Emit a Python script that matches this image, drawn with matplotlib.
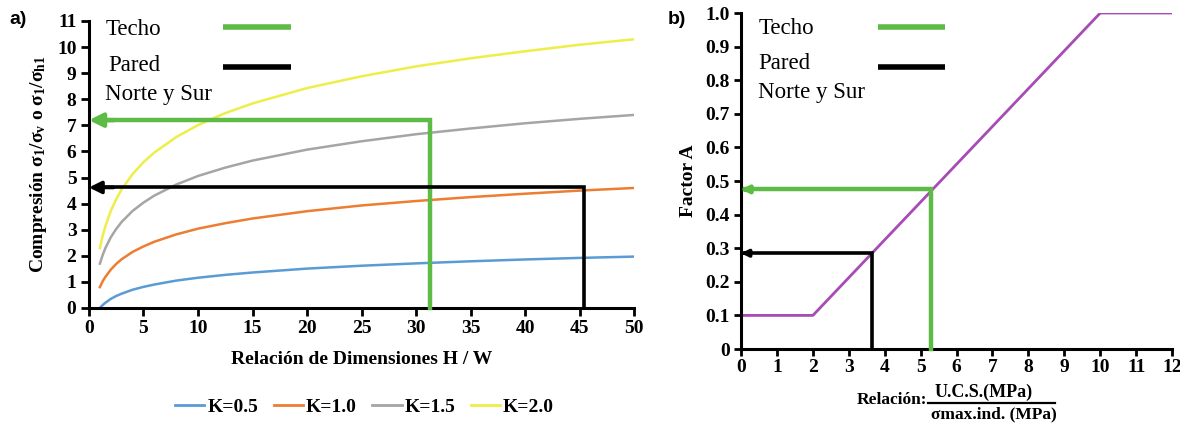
import numpy as np
import matplotlib as mpl
import matplotlib.pyplot as plt
from matplotlib.lines import Line2D

mpl.rcParams['font.family'] = ['Liberation Serif', 'DejaVu Serif']
mpl.rcParams['mathtext.fontset'] = 'custom'
mpl.rcParams['mathtext.rm'] = 'Liberation Serif'
mpl.rcParams['mathtext.bf'] = 'Liberation Serif:bold'
mpl.rcParams['mathtext.it'] = 'Liberation Serif:italic'

# DATA
# -----------
# panel a) relacion H/W vs compresion
hw = [1, 1.25, 1.5, 2, 2.5, 3, 4, 5, 6, 8, 10, 12.5, 15, 20, 25, 30, 35, 40, 45, 50]
k_labels = ['K=0.5', 'K=1.0', 'K=1.5', 'K=2.0']
k05 = [0.00, 0.11, 0.20, 0.35, 0.46, 0.55, 0.70, 0.81, 0.90, 1.05, 1.16, 1.27, 1.36,
       1.51, 1.62, 1.71, 1.79, 1.86, 1.92, 1.97]
k10 = [0.80, 1.02, 1.19, 1.47, 1.69, 1.87, 2.15, 2.36, 2.54, 2.82, 3.04, 3.25, 3.43,
       3.71, 3.93, 4.10, 4.25, 4.38, 4.50, 4.60]
k15 = [1.70, 2.02, 2.29, 2.71, 3.03, 3.30, 3.72, 4.04, 4.31, 4.73, 5.06, 5.38, 5.65,
       6.07, 6.39, 6.66, 6.88, 7.08, 7.25, 7.40]
k20 = [2.30, 2.76, 3.13, 3.72, 4.17, 4.55, 5.13, 5.59, 5.96, 6.55, 7.01, 7.47, 7.84,
       8.43, 8.88, 9.26, 9.57, 9.84, 10.09, 10.30]
k_colors = ['#5B9BD5', '#ED7D31', '#A5A5A5', '#EEEE48']

# guide lines (x at vertical, y at horizontal)
techo_a = (31.3, 7.2)
pared_a = (45.4, 4.62)

# panel b) factor A
ratio = [0, 2, 10, 12]
factor_a = [0.1, 0.1, 1.0, 1.0]
techo_b = (5.3, 0.475)
pared_b = (3.65, 0.285)

GREEN = '#5DBB46'
PURPLE = '#A64CB4'


def guide(ax, xv, yh, color, lw, head, xhead):
    ax.plot([xhead, xv, xv], [yh, yh, 0], color=color, lw=lw,
            solid_joinstyle='miter', clip_on=False, zorder=4)
    ax.annotate('', xy=(0, yh), xytext=(xhead * 1.5, yh),
                arrowprops=dict(arrowstyle='-|>', color=color, lw=lw,
                                mutation_scale=head, shrinkA=0, shrinkB=0),
                zorder=5, annotation_clip=False)


def style_axes(ax):
    for s in ['top', 'right']:
        ax.spines[s].set_visible(False)
    for s in ['left', 'bottom']:
        ax.spines[s].set_linewidth(2.2)
    ax.tick_params(direction='out', width=2, length=6, labelsize=14, pad=3)
    for lab in ax.get_xticklabels() + ax.get_yticklabels():
        lab.set_fontweight('bold')


def key(ax, xy_text, line_x, line_y, label, color, lw):
    ax.text(xy_text[0], xy_text[1], label, transform=ax.transAxes,
            fontsize=16.5, va='center', ha='left')
    ax.add_line(Line2D(line_x, line_y, transform=ax.transAxes, color=color, lw=lw,
                       solid_capstyle='butt', clip_on=False))


fig = plt.figure(figsize=(11.8, 4.25), dpi=100)

# -------- a)
ax1 = fig.add_axes([0.0754, 0.2753, 0.462, 0.6753])
for ys, c, lab in zip([k05, k10, k15, k20], k_colors, k_labels):
    ax1.plot(hw, ys, color=c, lw=1.8, label=lab)
guide(ax1, techo_a[0], techo_a[1], GREEN, 3.2, 20, 1.5)
guide(ax1, pared_a[0], pared_a[1], 'black', 2.6, 18, 1.5)
ax1.set_xlim(0, 50)
ax1.set_ylim(0, 11)
ax1.set_xticks(np.arange(0, 51, 5))
ax1.set_yticks(np.arange(0, 12, 1))
style_axes(ax1)
ax1.set_xlabel('Relación de Dimensiones H / W', fontsize=14, fontweight='bold', labelpad=10)
ax1.set_ylabel(r'Compresión $\mathbf{\sigma_1/\sigma_v}$ o $\mathbf{\sigma_1/\sigma_{h1}}$',
               fontsize=14, fontweight='bold', labelpad=6)
key(ax1, (0.03, 0.972), [0.245, 0.37], [0.979, 0.979], 'Techo', GREEN, 4)
key(ax1, (0.035, 0.845), [0.245, 0.37], [0.84, 0.84], 'Pared', 'black', 4)
ax1.text(0.03, 0.745, 'Norte y Sur', transform=ax1.transAxes, fontsize=16.5, va='center')

handles = [Line2D([], [], color=c, lw=2) for c in k_colors]
leg = fig.legend(handles, k_labels, loc='center', ncol=4, frameon=False,
                 bbox_to_anchor=(0.309, 0.042), prop={'weight': 'bold', 'size': 14},
                 handlelength=1.5, handletextpad=0.15, columnspacing=0.8)

fig.text(0.008, 0.955, 'a)', fontsize=14, fontweight='bold',
         family=['Liberation Sans Narrow', 'Liberation Sans'], va='center')
fig.text(0.566, 0.955, 'b)', fontsize=14, fontweight='bold',
         family=['Liberation Sans Narrow', 'Liberation Sans'], va='center')

# -------- b)
ax2 = fig.add_axes([0.628, 0.1788, 0.3653, 0.7906])
ax2.plot(ratio, factor_a, color=PURPLE, lw=2)
guide(ax2, techo_b[0], techo_b[1], GREEN, 3.2, 10, 0.1)
guide(ax2, pared_b[0], pared_b[1], 'black', 2.6, 10, 0.1)
ax2.set_xlim(0, 12)
ax2.set_ylim(0, 1.0)
ax2.set_xticks(np.arange(0, 13, 1))
ax2.set_yticks(np.round(np.arange(0, 1.01, 0.1), 1))
ax2.set_yticklabels(['0'] + ['%.1f' % v for v in np.arange(0.1, 1.01, 0.1)])
style_axes(ax2)
ax2.tick_params(axis='y', length=5)
ax2.tick_params(axis='x', length=5, pad=2)
ax2.set_ylabel('Factor A', fontsize=14, fontweight='bold', labelpad=6)
key(ax2, (0.04, 0.955), [0.318, 0.473], [0.958, 0.958], 'Techo', GREEN, 4)
key(ax2, (0.04, 0.85), [0.318, 0.473], [0.839, 0.839], 'Pared', 'black', 4)
ax2.text(0.04, 0.762, 'Norte y Sur', transform=ax2.transAxes, fontsize=16.5, va='center')

# fraction label below panel b)
fig.text(0.7263, 0.06, 'Relación:', fontsize=12.5, fontweight='bold', va='center', ha='left')
fig.text(0.834, 0.078, 'U.C.S.(MPa)', fontsize=13, fontweight='bold', va='center', ha='center')
fig.text(0.842, 0.024, 'σmax.ind. (MPa)', fontsize=12.5, fontweight='bold', va='center', ha='center')
fig.add_artist(Line2D([0.7865, 0.894], [0.051, 0.051], transform=fig.transFigure,
                      color='black', lw=1.6))

fig.savefig('out.png', dpi=100)
